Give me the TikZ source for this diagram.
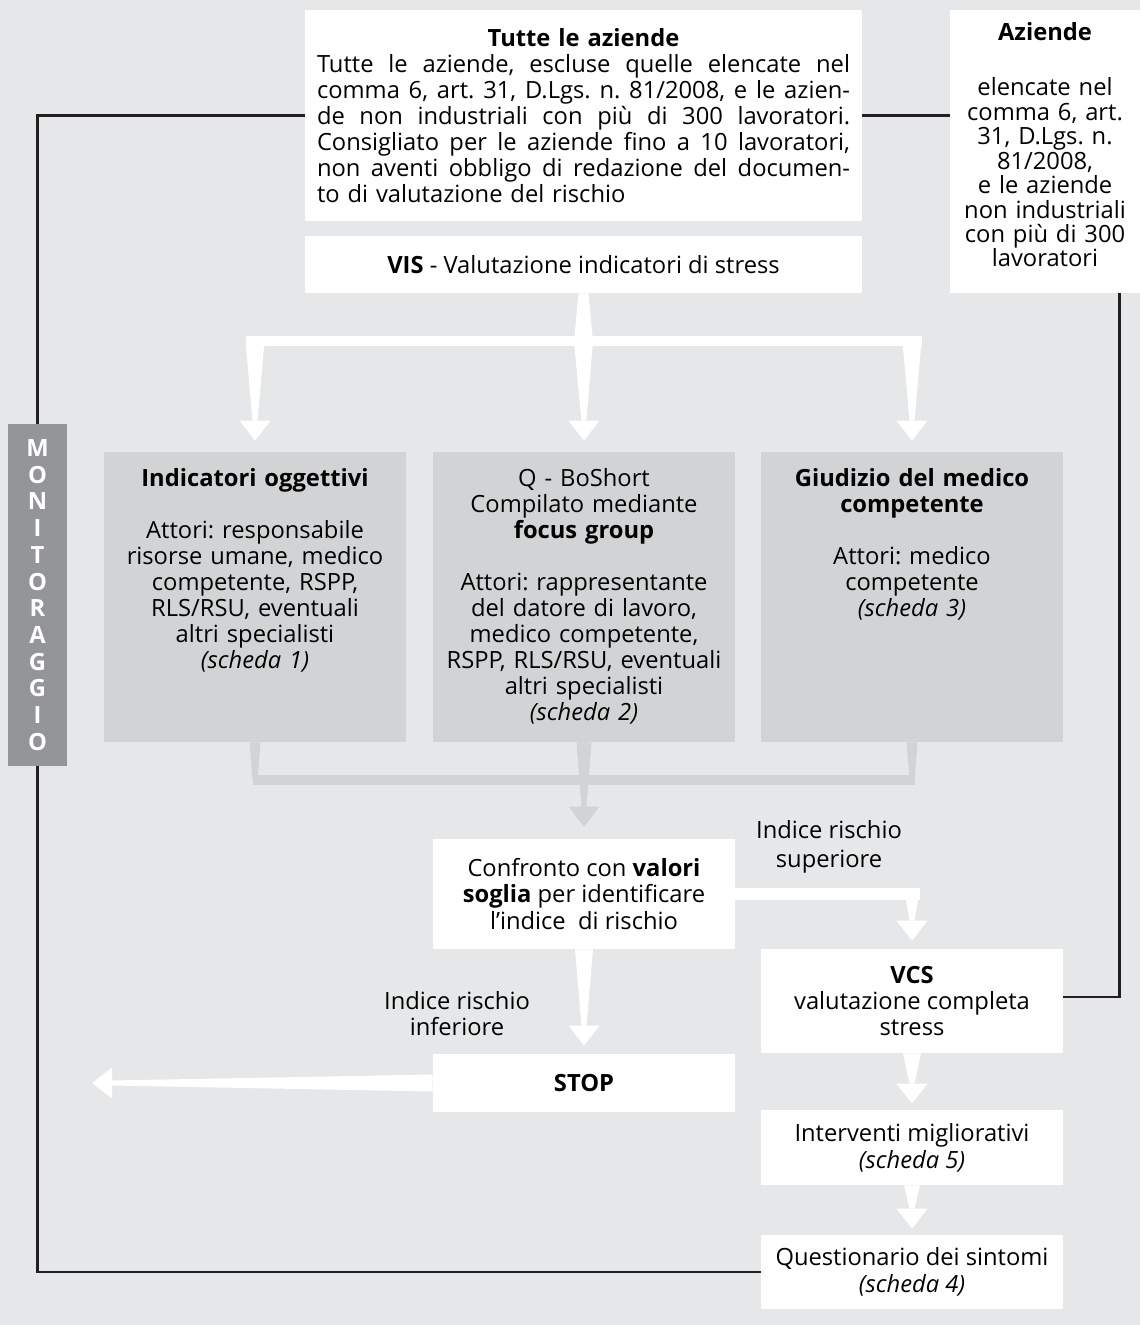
\documentclass[tikz,border=0pt]{standalone}
\usepackage{fontspec}
\setmainfont{Open Sans}
\usepackage{xcolor}
\usetikzlibrary{calc}
\definecolor{bg-gray}{HTML}{E6E7E8}
\definecolor{box-gray}{HTML}{D1D3D4}
\definecolor{tab-gray}{HTML}{939598}
\definecolor{line-black}{HTML}{231F20}
\frenchspacing
\AtBeginDocument{\lineskiplimit=-4pt\relax}

% one justified line of the top box
\newcommand{\jline}[1]{\makebox[10.66cm][s]{\spaceskip=0.26em plus 1fil\xspaceskip=\spaceskip #1}}
% tapered band: from, to, half width at start, half width at end
\newcommand{\wedgestem}[5][white]{%
  \fill[#1] ($(#2)!#4!90:(#3)$) -- ($(#3)!#5!-90:(#2)$)
    -- ($(#3)!#5!90:(#2)$) -- ($(#2)!#4!-90:(#3)$) -- cycle;}
% tapered band with a triangle head: from, tip, half width at start
\newcommand{\taparrow}[4][white]{%
  \coordinate (headbase) at ($(#3)!0.4cm!(#2)$);
  \wedgestem[#1]{#2}{headbase}{#4}{0.05cm}
  \fill[#1] ($(headbase)!0.31cm!90:(#3)$) -- (#3)
    -- ($(headbase)!0.31cm!-90:(#3)$) -- cycle;}

\begin{document}
\begin{tikzpicture}[every node/.style={font=\fontsize{13.5}{14.8}\selectfont, inner sep=0pt, align=center},
    whitebox/.style={fill=white, minimum width=6.04cm},
    graybox/.style={fill=box-gray, minimum width=6.04cm, text width=5.95cm,
      text height=0.69cm, text depth=5.11cm},
    connector/.style={draw=line-black, line width=1.4pt}]
  \fill[bg-gray] (0,0) rectangle (22.8,-26.5);
  \useasboundingbox (0,0) rectangle (22.8,-26.5);

  % top row
  \node[whitebox, minimum width=11.14cm, minimum height=4.22cm, text width=10.66cm] (tutte) at (11.67,-2.31)
    {\textbf{Tutte le aziende}\\
     \jline{Tutte le aziende, escluse quelle elencate nel}\\
     \jline{comma 6, art. 31, D.Lgs. n. 81/2008, e le azien-}\\
     \jline{de non industriali con più di 300 lavoratori.}\\
     \jline{Consigliato per le aziende fino a 10 lavoratori,}\\
     \jline{non aventi obbligo di redazione del documen-}\\
     \makebox[10.66cm][l]{to di valutazione del rischio}};
  \node[whitebox, minimum width=11.14cm, minimum height=1.14cm] (vis) at (11.67,-5.29)
    {\textbf{VIS} - Valutazione indicatori di stress};
  \node[whitebox, minimum width=3.8cm, text width=3.7cm, text height=0.62cm, text depth=5.04cm,
    font=\fontsize{13.5}{13.9}\selectfont] (azi) at (20.9,-3.03)
    {\textbf{Aziende}\\[0.61cm]
     elencate nel\\ comma 6, art.\\ 31, D.Lgs. n.\\ 81/2008,\\ e le aziende\\
     non industriali\\ con più di 300\\ lavoratori};

  % monitoring tab
  \node[fill=tab-gray, minimum width=1.18cm, minimum height=6.84cm, text=white,
    font=\fontsize{13.5}{15.2}\selectfont\bfseries] (mon) at (0.75,-11.9)
    {M\\O\\N\\I\\T\\O\\R\\A\\G\\G\\I\\O};

  % the three tools
  \node[graybox] (ind) at (5.1,-11.94)
    {\textbf{Indicatori oggettivi}\\[0.52cm]
     Attori: responsabile\\ risorse umane, medico\\ competente, RSPP,\\
     RLS/RSU, eventuali\\ altri specialisti\\ \textit{(scheda 1)}};
  \node[graybox] (qbo) at (11.68,-11.94)
    {Q - BoShort\\ Compilato mediante\\ \textbf{focus group}\\[0.52cm]
     Attori: rappresentante\\ del datore di lavoro,\\ medico competente,\\
     RSPP, RLS/RSU, eventuali\\ altri specialisti\\ \textit{(scheda 2)}};
  \node[graybox] (giu) at (18.24,-11.94)
    {\textbf{Giudizio del medico}\\ \textbf{competente}\\[0.52cm]
     Attori: medico\\ competente\\ \textit{(scheda 3)}};

  % lower steps
  \node[whitebox, minimum height=2.2cm, font=\fontsize{13.5}{15.1}\selectfont] (conf) at (11.68,-17.88)
    {Confronto con \textbf{valori}\\ \textbf{soglia} per identificare\\ l’indice\ \ di rischio};
  \node[whitebox, minimum height=2.08cm] (vcs) at (18.24,-20.02)
    {\textbf{VCS}\\ valutazione completa\\ stress};
  \node[whitebox, minimum height=1.16cm] (stop) at (11.68,-21.66) {\textbf{STOP}};
  \node[whitebox, minimum height=1.5cm, font=\fontsize{13.5}{15.4}\selectfont] (interv) at (18.24,-22.95)
    {Interventi migliorativi\\ \textit{(scheda 5)}};
  \node[whitebox, minimum height=1.48cm, font=\fontsize{13.5}{15.4}\selectfont] (quest) at (18.24,-25.44)
    {Questionario dei sintomi\\ \textit{(scheda 4)}};
  \node[font=\fontsize{13.5}{16.5}\selectfont] (hi-label) at (16.58,-16.94) {Indice rischio\\ superiore};
  \node (lo-label) at (9.14,-20.28) {Indice rischio\\ inferiore};

  % black lines
  \draw[connector] (tutte.east) -- (tutte.east -| azi.west);
  \draw[connector] (tutte.west) -| (mon.north);
  \draw[connector] (mon.south) |- (quest.west);
  \coordinate (azidown) at ([xshift=-0.42cm]azi.south east);
  \coordinate (vcsright) at ([yshift=0.08cm]vcs.east);
  \draw[connector] (azidown) |- (vcsright);

  % white arrows from VIS
  \coordinate (split) at ($(vis.south)+(0,-0.96)$);
  \coordinate (splitL) at (ind.north |- split);
  \coordinate (splitR) at (giu.north |- split);
  \wedgestem{vis.south}{split}{0.1cm}{0.19cm}
  \draw[white, line width=0.2cm] ([xshift=-0.19cm]splitL) -- ([xshift=0.19cm]splitR);
  \coordinate (indin) at ([yshift=0.22cm]ind.north);
  \coordinate (qboin) at ([yshift=0.22cm]qbo.north);
  \coordinate (giuin) at ([yshift=0.22cm]giu.north);
  \taparrow{splitL}{indin}{0.19cm}
  \taparrow{split}{qboin}{0.19cm}
  \taparrow{splitR}{giuin}{0.19cm}

  % gray arrows into the comparison
  \coordinate (merge) at (11.68,-15.6);
  \coordinate (mergeL) at (ind.south |- merge);
  \coordinate (mergeR) at (giu.south |- merge);
  \wedgestem[box-gray]{ind.south}{mergeL}{0.11cm}{0.05cm}
  \wedgestem[box-gray]{giu.south}{mergeR}{0.11cm}{0.05cm}
  \draw[box-gray, line width=0.2cm] ([xshift=-0.05cm]mergeL) -- ([xshift=0.05cm]mergeR);
  \coordinate (confin) at ([yshift=0.24cm]conf.north);
  \taparrow[box-gray]{qbo.south}{confin}{0.15cm}

  % outcome arrows
  \coordinate (stopin) at ([yshift=0.16cm]stop.north);
  \taparrow{conf.south}{stopin}{0.18cm}
  \coordinate (turn) at (vcs.north |- conf.east);
  \draw[white, line width=0.24cm] (conf.east) -- ([xshift=0.16cm]turn);
  \coordinate (turntop) at ([yshift=0.12cm]turn);
  \coordinate (vcsin) at ([yshift=0.16cm]vcs.north);
  \taparrow{turntop}{vcsin}{0.16cm}
  \coordinate (stopout) at (1.84,-21.66);
  \taparrow{stop.west}{stopout}{0.17cm}
  \coordinate (intervin) at ([yshift=0.12cm]interv.north);
  \taparrow{vcs.south}{intervin}{0.18cm}
  \coordinate (questin) at ([yshift=0.12cm]quest.north);
  \taparrow{interv.south}{questin}{0.16cm}
\end{tikzpicture}
\end{document}
